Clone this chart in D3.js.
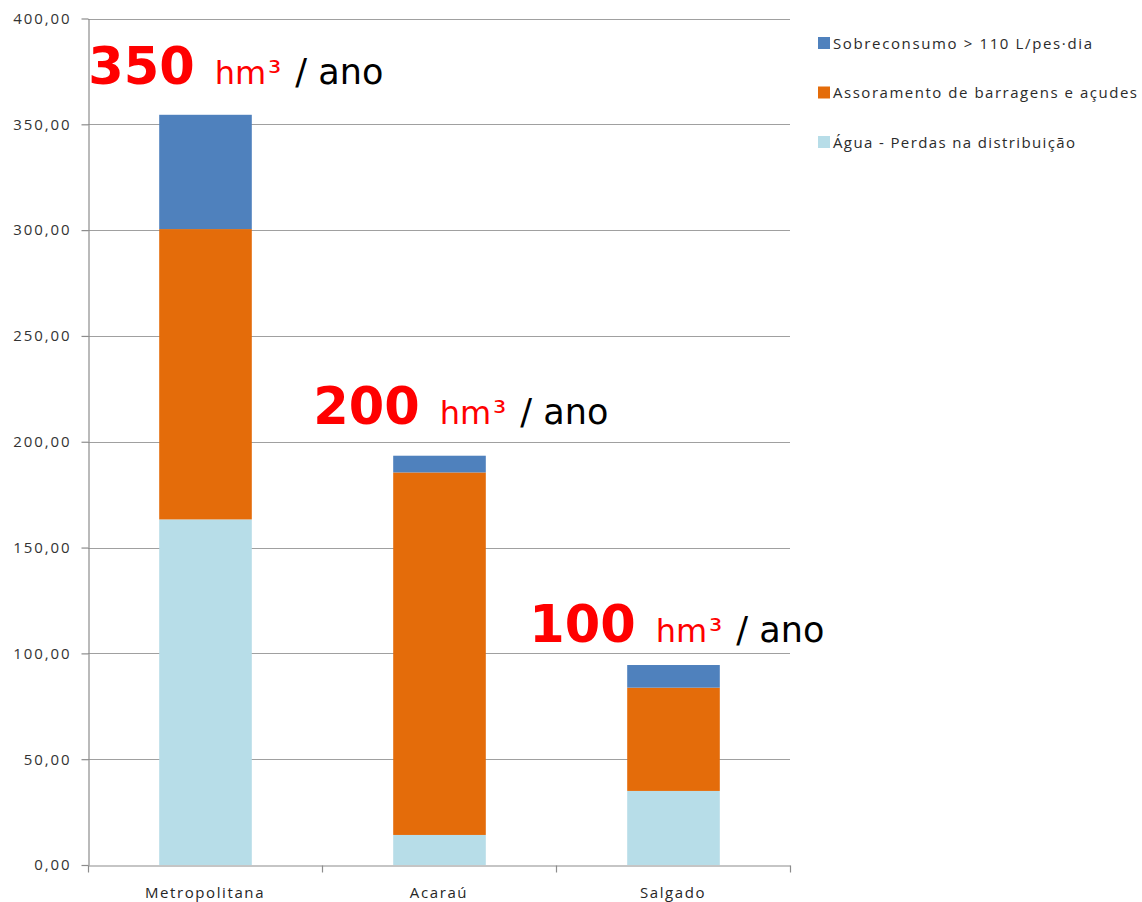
<!DOCTYPE html>
<html>
<head>
<meta charset="utf-8">
<script src="https://cdn.jsdelivr.net/npm/d3@7"></script>
<style>
  html, body { margin: 0; padding: 0; background: #ffffff; }
  svg { display: block; }
</style>
</head>
<body>
<svg id="chart" width="1142" height="902"></svg>
<script>
// Regions (basins) along the x axis
const categories = ["Metropolitana", "Acaraú", "Salgado"];

// Stacked components, hm³ per year (bottom to top)
const perdasDistribuicao = [163.3, 14.2, 35.0];
const assoreamento = [137.2, 171.3, 48.8];
const sobreconsumo = [54.0, 7.9, 10.7];

// Series names as shown in the legend
const seriesNames = [
  "Água - Perdas na distribuição",
  "Assoramento de barragens e açudes",
  "Sobreconsumo > 110 L/pes·dia"
];

// Rounded totals written above each bar
const totalLabels = ["350", "200", "100"];

// y-axis ticks
const yTicks = [0, 50, 100, 150, 200, 250, 300, 350, 400];

// Colours for the three series (bottom to top)
const colors = ["#b7dde8", "#e46c0a", "#4f81bd"];

// Annotation placement relative to each bar's left edge and top (px)
const annotationOffsets = [
  { dx: -70, dy: -31 },
  { dx: -79, dy: -32 },
  { dx: -97, dy: -23 }
];

const svg = d3.select("#chart");
const plot = { left: 88, right: 790, top: 18.5, bottom: 865 };

const x = d3.scaleBand()
  .domain(categories)
  .range([plot.left, plot.right])
  .paddingInner(0.6)
  .paddingOuter(0.3);

const y = d3.scaleLinear()
  .domain([0, 400])
  .range([plot.bottom, plot.top]);

const ptBR = d3.formatLocale({ decimal: ",", thousands: ".", grouping: [3], currency: ["R$", ""] });
const fmt = ptBR.format(".2f");

// Horizontal gridlines
svg.append("g")
  .selectAll("line")
  .data(yTicks.filter(d => d > 0))
  .join("line")
  .attr("x1", plot.left)
  .attr("x2", plot.right)
  .attr("y1", d => Math.round(y(d)) + 0.5)
  .attr("y2", d => Math.round(y(d)) + 0.5)
  .attr("stroke", "#a0a0a0")
  .attr("stroke-width", 1.2);

// Stack the three series
const rows = categories.map((c, i) => ({
  category: c,
  perdas: perdasDistribuicao[i],
  assoreamento: assoreamento[i],
  sobreconsumo: sobreconsumo[i]
}));
const keys = ["perdas", "assoreamento", "sobreconsumo"];
const stacked = d3.stack().keys(keys)(rows);

svg.append("g")
  .selectAll("g")
  .data(stacked)
  .join("g")
  .attr("fill", (d, i) => colors[i])
  .selectAll("rect")
  .data(d => d)
  .join("rect")
  .attr("x", d => x(d.data.category) + 1)
  .attr("width", x.bandwidth() - 1)
  .attr("y", d => y(d[1]))
  .attr("height", d => y(d[0]) - y(d[1]));

// Left axis
const yAxis = svg.append("g")
  .attr("transform", `translate(${plot.left + 0.5},0)`)
  .call(d3.axisLeft(y).tickValues(yTicks).tickFormat(fmt).tickSize(7).tickSizeOuter(0).tickPadding(10));
yAxis.select(".domain").attr("stroke", "#8c8c8c").attr("stroke-width", 1.2);
yAxis.selectAll(".tick line").attr("stroke", "#8c8c8c").attr("stroke-width", 1.2);
yAxis.selectAll(".tick text")
  .attr("fill", "#333333")
  .style("font-family", "'Open Sans', sans-serif")
  .style("font-size", "15px")
  .style("letter-spacing", "1.9px");

// Bottom axis
const xAxis = svg.append("g")
  .attr("transform", `translate(0,${plot.bottom + 0.5})`)
  .call(d3.axisBottom(x).tickSize(0).tickPadding(22));
xAxis.select(".domain").attr("stroke", "#8c8c8c").attr("stroke-width", 1.2);
xAxis.selectAll(".tick text")
  .attr("fill", "#262626")
  .style("font-family", "'Open Sans', sans-serif")
  .style("font-size", "15px")
  .style("letter-spacing", "1.6px");

// Category boundary ticks below the axis
const boundaries = [plot.left].concat(
  categories.map(c => x(c) + x.bandwidth() + x.step() * x.paddingInner() / 2)
);
boundaries[boundaries.length - 1] = plot.right;
xAxis.append("g")
  .selectAll("line")
  .data(boundaries)
  .join("line")
  .attr("x1", d => Math.round(d) + 0.5)
  .attr("x2", d => Math.round(d) + 0.5)
  .attr("y1", 0)
  .attr("y2", 7)
  .attr("stroke", "#8c8c8c")
  .attr("stroke-width", 1.2);

// Total annotations above each bar
const totals = categories.map((c, i) => perdasDistribuicao[i] + assoreamento[i] + sobreconsumo[i]);
const ann = svg.append("g")
  .selectAll("text")
  .data(categories)
  .join("text")
  .attr("x", (c, i) => x(c) + annotationOffsets[i].dx)
  .attr("y", (c, i) => y(totals[i]) + annotationOffsets[i].dy)
  .style("font-family", "'DejaVu Sans', sans-serif");
ann.append("tspan")
  .attr("fill", "#ff0000")
  .attr("font-weight", "bold")
  .attr("font-size", 51)
  .text((c, i) => totalLabels[i]);
ann.append("tspan")
  .attr("fill", "#ff0000")
  .attr("font-size", 32)
  .attr("dx", 20)
  .text("hm");
ann.append("tspan")
  .attr("fill", "#ff0000")
  .attr("font-size", 33)
  .attr("dx", 2)
  .text("³");
ann.append("tspan")
  .attr("fill", "#000000")
  .attr("font-size", 35)
  .attr("dx", 14)
  .text("/ ano");

// Legend (top series listed first)
const legendItems = [2, 1, 0].map(i => ({ name: seriesNames[i], color: colors[i] }));
const legendWidths = [259, 304, 242];
const legend = svg.append("g")
  .selectAll("g")
  .data(legendItems)
  .join("g")
  .attr("transform", (d, i) => `translate(818,${37 + i * 49.5})`);
legend.append("rect")
  .attr("width", 12)
  .attr("height", 12)
  .attr("fill", d => d.color);
legend.append("text")
  .attr("x", 15)
  .attr("y", 11.5)
  .attr("fill", "#2b2b2b")
  .attr("textLength", (d, i) => legendWidths[i])
  .attr("lengthAdjust", "spacing")
  .style("font-family", "'Open Sans', sans-serif")
  .style("font-size", "15px")
  .text(d => d.name);
</script>
</body>
</html>
